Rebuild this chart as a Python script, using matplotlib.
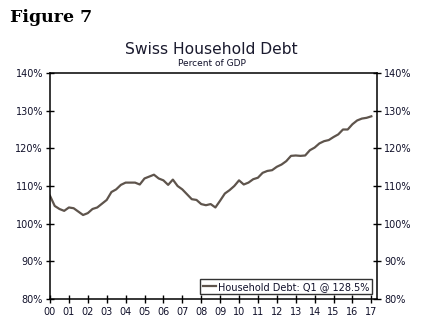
import matplotlib
matplotlib.use("Agg")
import matplotlib.pyplot as plt
import numpy as np

years = [2000 + i for i in range(18)]
tick_labels = ["00", "01", "02", "03", "04", "05", "06", "07", "08", "09",
               "10", "11", "12", "13", "14", "15", "16", "17"]
debt = [107.4, 104.7, 103.9, 103.4,
        104.3, 104.1, 103.2, 102.3,
        102.8, 103.9, 104.3, 105.3,
        106.3, 108.4, 109.1, 110.3,
        110.9, 110.9, 110.9, 110.4,
        112.0, 112.5, 113.0, 112.0,
        111.5, 110.3, 111.7, 110.0,
        109.1, 107.8, 106.5, 106.3,
        105.2, 104.9, 105.2, 104.3,
        106.1, 108.0, 108.9, 110.0,
        111.5, 110.4, 110.9, 111.8,
        112.2, 113.5, 114.0, 114.2,
        115.1, 115.7, 116.6, 118.0,
        118.1, 118.0, 118.1, 119.5,
        120.2, 121.3, 121.9, 122.2,
        123.0, 123.7, 125.0, 125.0,
        126.4, 127.4, 127.9, 128.1,
        128.5]
quarters = [2000 + i / 4 for i in range(len(debt))]
y_ticks = [80, 90, 100, 110, 120, 130, 140]
y_labels = ["80%", "90%", "100%", "110%", "120%", "130%", "140%"]

fig = plt.figure(figsize=(4.23, 3.26), dpi=100)
ax = fig.add_axes([50/423, 27/326, 327/423, 226/326])
ax.plot(quarters, debt, color="#5e544c", lw=1.6,
        label="Household Debt: Q1 @ 128.5%")
ax.set_xlim(2000, 2017.3)
ax.set_ylim(80, 140)
ax.set_xticks(years)
ax.set_xticklabels(tick_labels)
ax.set_yticks(y_ticks)
ax.set_yticklabels(y_labels)
tc = "#10102a"
ax.tick_params(axis="both", direction="inout", length=6, width=1,
               labelsize=7, labelcolor=tc)
ax.tick_params(axis="y", right=True, labelright=True, pad=2)
ax.tick_params(axis="x", pad=3)
for s in ax.spines.values():
    s.set_linewidth(1.1)
leg = ax.legend(loc="lower right", fontsize=7, frameon=True, fancybox=False,
                handlelength=1.4, handletextpad=0.2, borderpad=0.25,
                borderaxespad=0.5)
leg.get_frame().set_edgecolor("black")
leg.get_frame().set_linewidth(1)
for t in leg.get_texts():
    t.set_color(tc)

fig.text(10/423, 1 - 18/326, "Figure 7", family="DejaVu Serif",
         weight="bold", fontsize=12.5, va="center", ha="left")
fig.text(0.5, 1 - 50/326, "Swiss Household Debt", fontsize=11.2,
         va="center", ha="center", color="#1a1a2e")
fig.text(0.5, 1 - 64/326, "Percent of GDP", fontsize=6.5,
         va="center", ha="center", color=tc)
fig.savefig("out.png", dpi=100)
